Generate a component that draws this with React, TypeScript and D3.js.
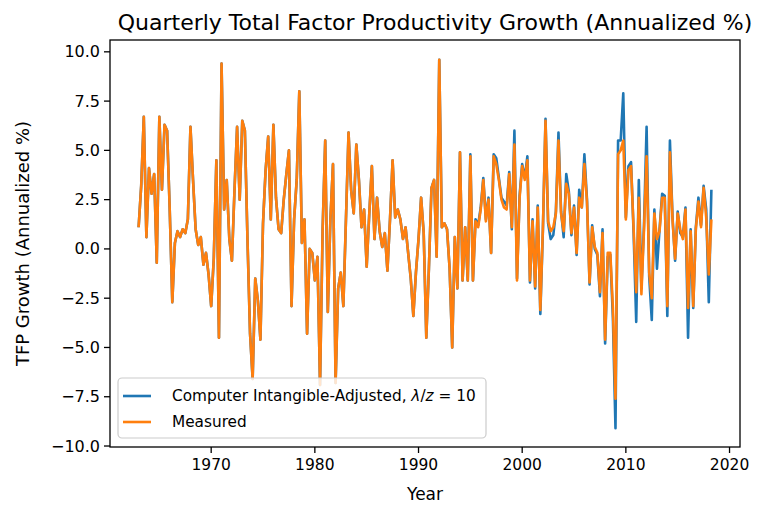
import React from "react";
import * as d3 from "d3";

const START_YEAR = 1963;
const measured: number[] = [
  1.1, 3.2, 6.7, 0.6, 4.1, 2.8, 3.8, -0.7, 6.7, 3.0,
  6.3, 6.0, 2.0, -2.7, 0.3, 0.9, 0.6, 1.0, 0.8, 1.5,
  6.2, 3.5, 1.0, 0.2, 0.6, -0.8, -0.2, -1.3, -2.9, -0.5,
  4.5, -4.5, 9.4, 2.0, 3.5, 0.5, -0.6, 3.0, 6.2, 2.5,
  6.5, 6.0, 0.5, -4.3, -6.6, -1.5, -2.6, -4.6, 1.3, 4.0,
  5.7, 1.5, 6.3, 2.6, 1.0, 0.8, 2.5, 3.8, 5.0, -2.9,
  1.5, 3.5, 8.0, 0.3, 1.5, -4.3, 0.0, -0.2, -1.6, -0.4,
  -6.9, 1.0, 5.5, -3.2, 1.5, 4.3, -6.8, -2.0, -1.2, -2.9,
  1.5, 5.9, 3.0, 1.8, 5.3, 3.5, 1.1, 2.0, -0.9, 1.8,
  4.2, 0.5, 2.6, 0.9, 0.1, 0.8, -1.1, 1.5, 4.5, 1.6,
  2.0, 1.5, 0.5, 1.1, -0.2, -1.5, -3.4, -1.2, 0.5, 2.6,
  0.8, -4.5, -1.0, 3.1, 3.5, -0.4, 9.6, 1.1, 1.3, 1.0,
  -1.0, -5.0, 0.6, -2.0, 4.9, -1.6, 1.1, -1.6, 4.7, -1.6,
  1.4, 1.1, 2.0, 3.5, 1.4, 2.5, -0.2, 4.7, 4.3, 3.5,
  2.5, 2.1, 2.0, 3.8, 1.1, 5.3, -1.6, 2.6, 4.2, 3.5,
  4.5, -1.6, 1.4, -1.9, 2.1, -3.1, 1.1, 6.5, 1.4, 0.9,
  1.1, 1.8, 5.5, 1.8, 0.9, 3.3, 2.8, 0.8, 2.1, -0.2,
  2.6, 2.1, 4.3, 2.4, -1.7, 1.1, 0.1, -0.2, -2.2, 0.8,
  -4.6, -0.2, -0.2, -3.0, -7.6, 4.8, 5.0, 5.5, 1.5, 4.0,
  4.2, 1.0, -2.2, 2.6, -2.3, 1.0, 4.7, -1.2, -2.5, 1.8,
  0.5, 0.9, 2.6, 2.6, -2.9, 4.9, 1.5, -0.5, 1.8, 1.0,
  0.5, 2.0, -3.0, 0.9, -2.9, 1.0, 2.4, 1.1, 3.1, 1.6,
  -1.3, 1.5,
];
const adjusted: number[] = [
  1.1, 3.2, 6.7, 0.6, 4.1, 2.8, 3.8, -0.7, 6.7, 3.0,
  6.3, 6.0, 2.0, -2.7, 0.3, 0.9, 0.6, 1.0, 0.8, 1.5,
  6.2, 3.5, 1.0, 0.2, 0.6, -0.8, -0.2, -1.3, -2.9, -0.5,
  4.5, -4.5, 9.4, 2.0, 3.5, 0.5, -0.6, 3.0, 6.2, 2.5,
  6.5, 6.0, 0.5, -4.3, -6.6, -1.5, -2.6, -4.6, 1.3, 4.0,
  5.7, 1.5, 6.3, 2.6, 1.0, 0.8, 2.5, 3.8, 5.0, -2.9,
  1.5, 3.5, 8.0, 0.3, 1.5, -4.3, 0.0, -0.2, -1.6, -0.4,
  -6.9, 1.0, 5.5, -3.2, 1.5, 4.3, -6.8, -2.0, -1.2, -2.9,
  1.5, 5.9, 3.0, 1.8, 5.3, 3.5, 1.1, 2.0, -0.9, 1.8,
  4.2, 0.5, 2.6, 0.9, 0.1, 0.8, -1.1, 1.5, 4.5, 1.6,
  2.0, 1.5, 0.5, 1.1, -0.2, -1.5, -3.4, -1.2, 0.5, 2.6,
  0.8, -4.5, -1.0, 3.1, 3.5, -0.4, 9.6, 1.1, 1.3, 1.0,
  -1.0, -5.0, 0.6, -2.0, 4.9, -1.6, 1.1, -1.6, 4.8, -1.6,
  1.5, 1.2, 2.1, 3.6, 1.5, 2.6, -0.2, 4.8, 4.6, 3.6,
  2.6, 2.4, 2.2, 3.9, 1.0, 6.0, -1.5, 2.7, 4.3, 3.6,
  4.7, -1.7, 1.5, -2.0, 2.2, -3.3, 1.0, 6.6, 1.3, 0.5,
  0.7, 1.9, 5.9, 1.9, 0.6, 3.8, 2.9, 0.7, 2.2, -0.3,
  3.0, 2.1, 4.8, 2.5, -1.8, 1.2, 0.0, -0.3, -2.4, 1.0,
  -4.8, -0.4, -0.3, -3.5, -9.1, 5.5, 5.5, 7.9, 1.6, 4.2,
  4.4, 0.8, -3.7, 3.5, -2.0, 1.2, 6.2, -1.4, -3.6, 2.0,
  -1.0, 1.0, 2.8, 2.7, -3.4, 5.5, 1.6, -0.6, 1.9, 0.8,
  0.6, 2.1, -4.5, 1.0, -3.0, 1.1, 2.6, 1.2, 3.2, 2.0,
  -2.7, 3.0,
];
const xTicks = [1970, 1980, 1990, 2000, 2010, 2020];
const yTicks = [-10, -7.5, -5, -2.5, 0, 2.5, 5, 7.5, 10];
const seriesNames = ["Computer Intangible-Adjusted, ", "Measured"];
const colors = ["#1f77b4", "#ff7f0e"];

const W = 758, H = 508;
const L = 110, R = 740, T = 40, B = 447;
const FONT = "DejaVu Sans, sans-serif";

export default function App() {
  const x = d3.scaleLinear().domain([1960.24, 2021.01]).range([L, R]);
  const y = d3.scaleLinear().domain([-10.05, 10.6]).range([B, T]);
  const line = d3
    .line<number>()
    .x((_, i) => x(START_YEAR + i / 4))
    .y((d) => y(d));
  const series = [adjusted, measured];
  return (
    <svg width={W} height={H} style={{ position: "absolute", left: 0, top: 0, background: "#fff" }} fontFamily={FONT}>
      <rect x={0} y={0} width={W} height={H} fill="#fff" />
      <defs>
        <clipPath id="plot">
          <rect x={L} y={T} width={R - L} height={B - T} />
        </clipPath>
      </defs>
      <g clipPath="url(#plot)">
        {series.map((s, k) => (
          <path key={k} d={line(s) || ""} fill="none" stroke={colors[k]} strokeWidth={2.6} strokeLinejoin="round" />
        ))}
      </g>
      <rect x={L} y={T} width={R - L} height={B - T} fill="none" stroke="#000" strokeWidth={1.3} />
      {xTicks.map((t) => (
        <g key={t}>
          <line x1={x(t)} x2={x(t)} y1={B} y2={B + 6} stroke="#000" strokeWidth={1.3} />
          <text x={x(t)} y={B + 23} textAnchor="middle" fontSize={15.5}>{t}</text>
        </g>
      ))}
      {yTicks.map((t) => (
        <g key={t}>
          <line x1={L - 6} x2={L} y1={y(t)} y2={y(t)} stroke="#000" strokeWidth={1.3} />
          <text x={L - 10} y={y(t) + 5.5} textAnchor="end" fontSize={16}>{t.toFixed(1).replace("-", "\u2212")}</text>
        </g>
      ))}
      <text x={(L + R) / 2} y={500} textAnchor="middle" fontSize={17}>Year</text>
      <text transform={`translate(29,${(T + B) / 2}) rotate(-90)`} textAnchor="middle" fontSize={18}>TFP Growth (Annualized %)</text>
      <text x={435} y={30} textAnchor="middle" fontSize={22}>Quarterly Total Factor Productivity Growth (Annualized %)</text>
      <g>
        <rect x={118} y={378} width={368} height={60} rx={4} fill="#fff" fillOpacity={0.8} stroke="#ccc" strokeWidth={1.2} />
        <line x1={123} x2={151} y1={396} y2={396} stroke={colors[0]} strokeWidth={2.6} />
        <line x1={123} x2={151} y1={422} y2={422} stroke={colors[1]} strokeWidth={2.6} />
        <text x={172} y={401} fontSize={15.3}>
          {seriesNames[0]}
          <tspan fontStyle="italic">λ</tspan>
          <tspan>/</tspan>
          <tspan fontStyle="italic">z</tspan>
          <tspan> = 10</tspan>
        </text>
        <text x={172} y={427} fontSize={15.3}>{seriesNames[1]}</text>
      </g>
    </svg>
  );
}
